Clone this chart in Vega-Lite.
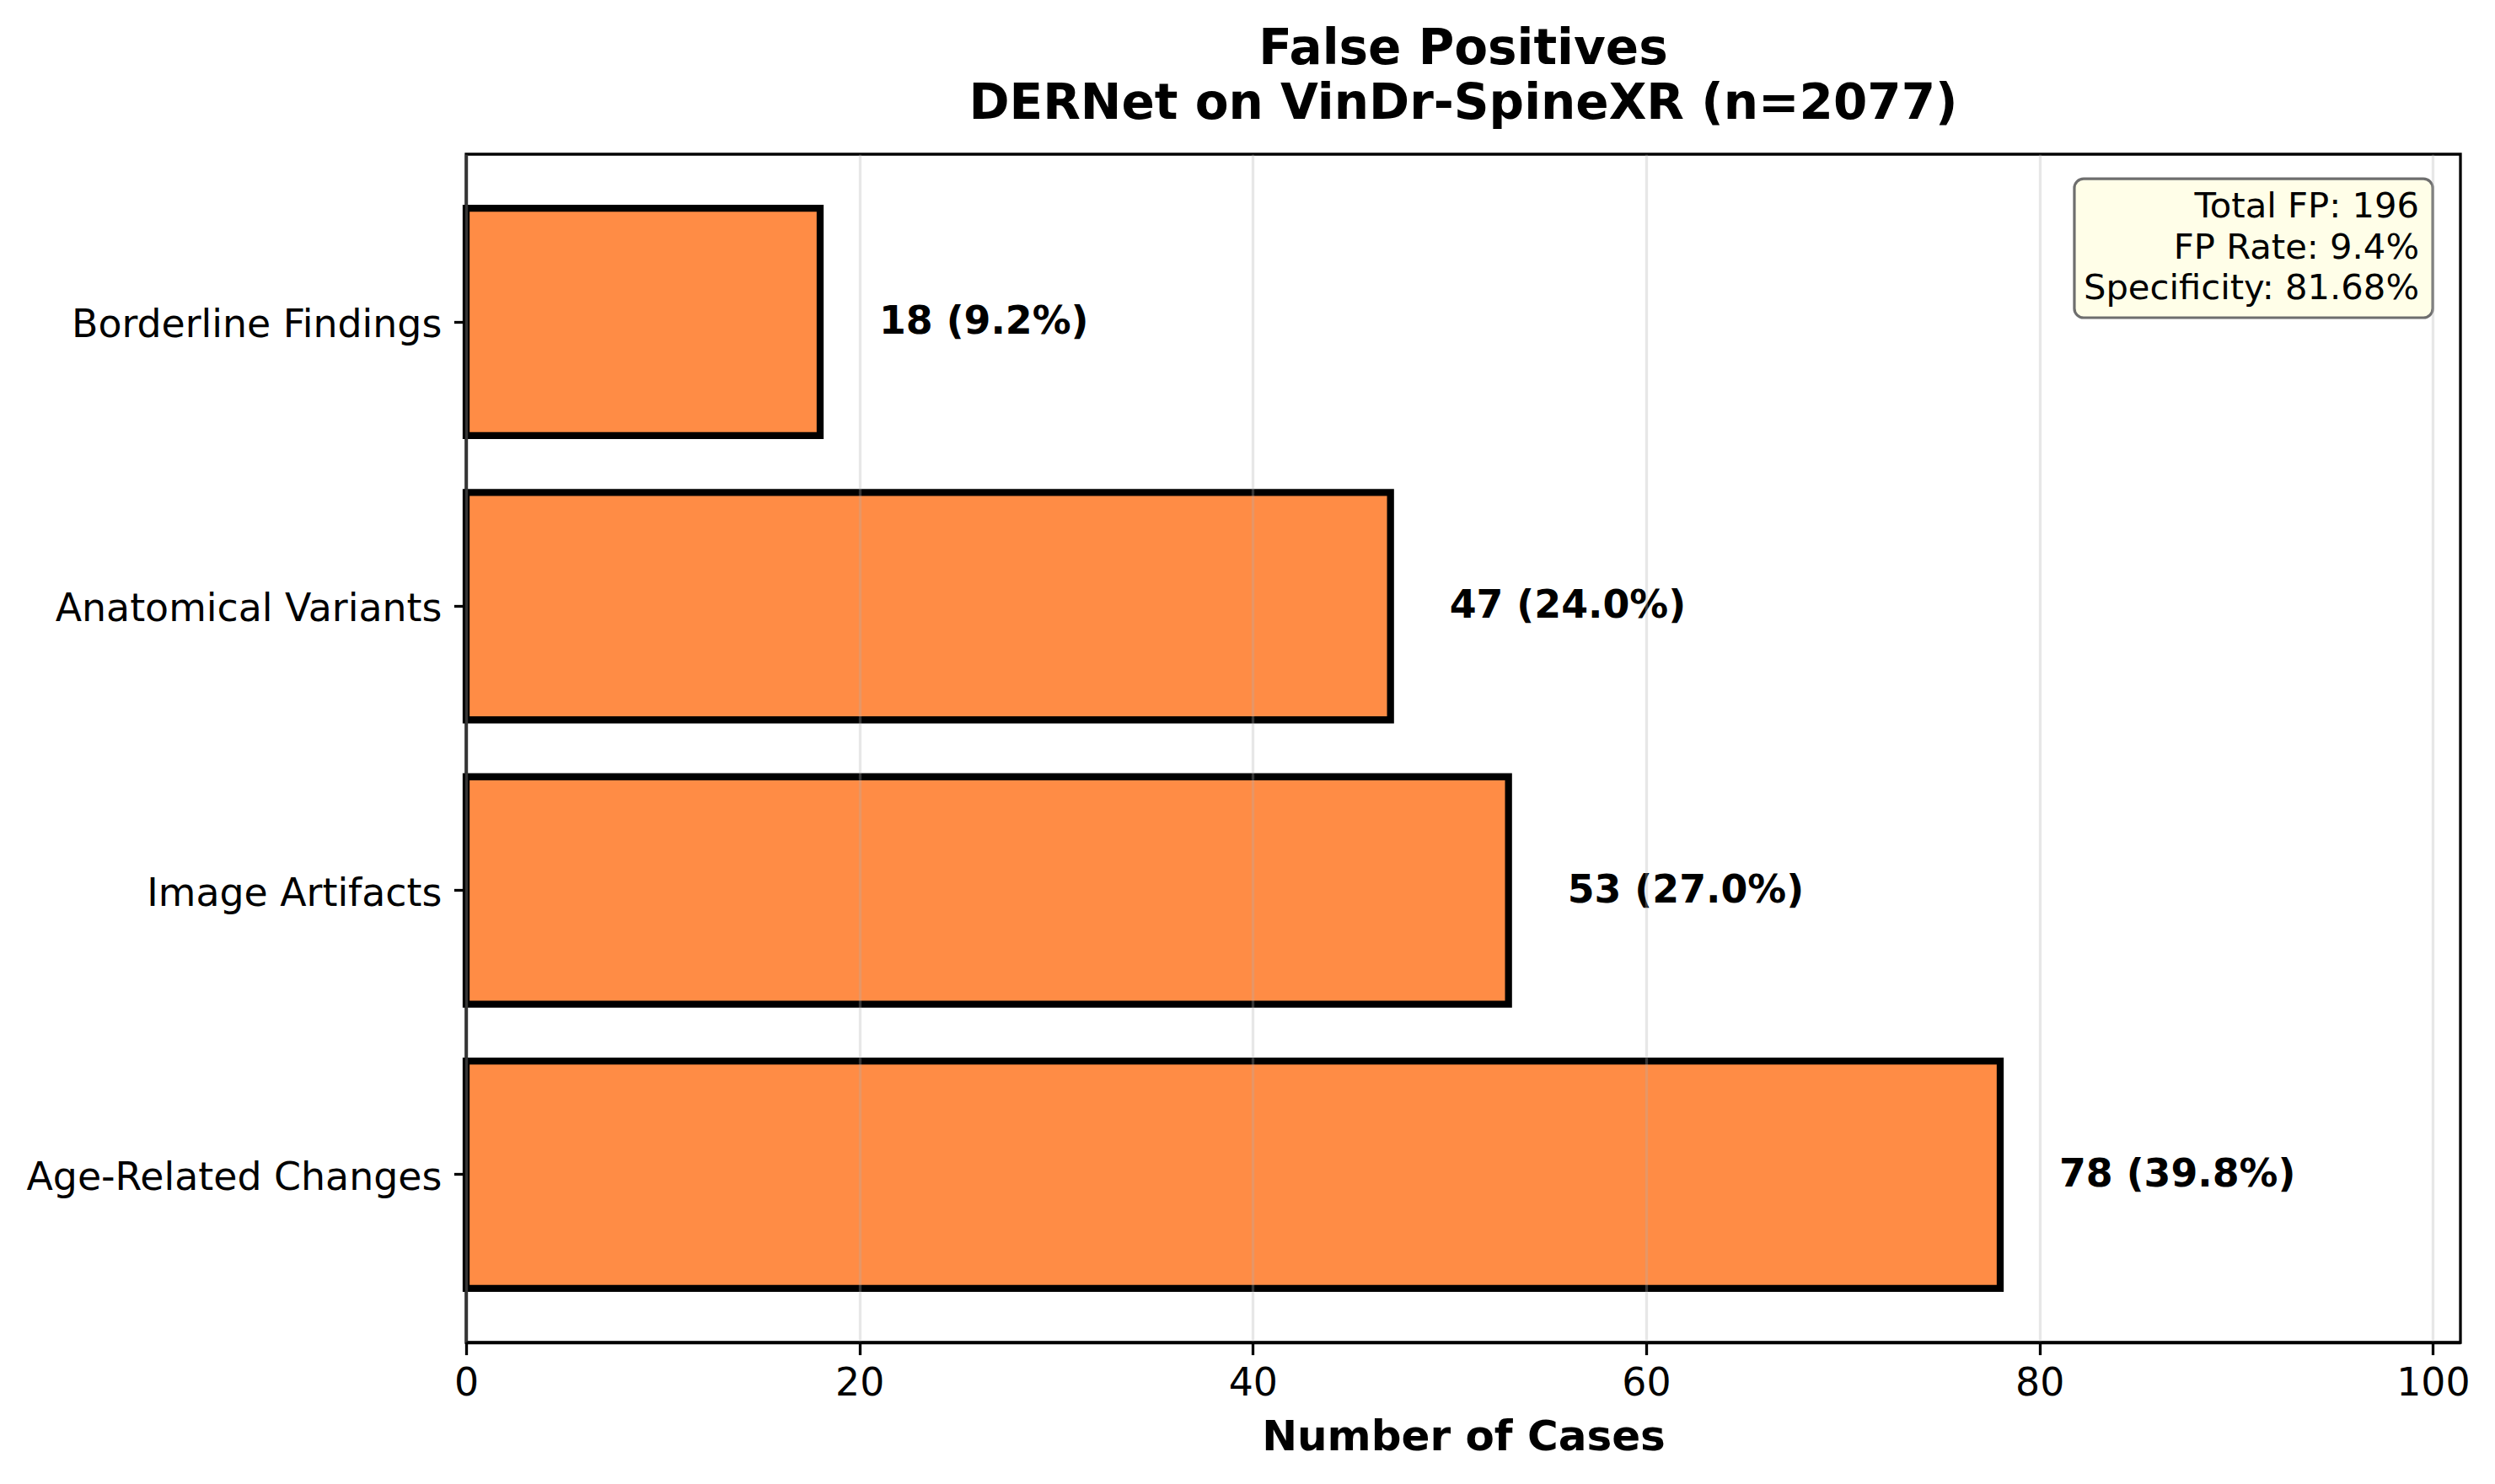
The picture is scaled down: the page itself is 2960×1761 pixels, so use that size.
{
  "$schema": "https://vega.github.io/schema/vega-lite/v6.json",
  "description": "False positives of DERNet on VinDr-SpineXR, by category",
  "width": 2366,
  "height": 1410,
  "autosize": {"type": "none"},
  "padding": {"left": 553, "top": 183, "right": 41, "bottom": 168},
  "background": "white",
  "config": {
    "font": "DejaVu Sans",
    "view": {"stroke": "black", "strokeWidth": 3.3},
    "axis": {
      "domainColor": "black",
      "domainWidth": 3.3,
      "tickColor": "black",
      "tickWidth": 3.3,
      "tickSize": 14.6,
      "labelColor": "black",
      "labelFont": "DejaVu Sans",
      "labelFontSize": 45.8,
      "labelLimit": 0,
      "titleColor": "black",
      "titleFont": "DejaVu Sans"
    }
  },
  "title": {
    "text": ["False Positives", "DERNet on VinDr-SpineXR (n=2077)"],
    "font": "DejaVu Sans",
    "fontSize": 58,
    "fontWeight": "bold",
    "color": "black",
    "anchor": "middle",
    "frame": "group",
    "lineHeight": 65,
    "offset": 30
  },
  "datasets": {
    "fp": [
      {"category": "Age-Related Changes", "count": 78, "label": "78 (39.8%)"},
      {"category": "Image Artifacts", "count": 53, "label": "53 (27.0%)"},
      {"category": "Anatomical Variants", "count": 47, "label": "47 (24.0%)"},
      {"category": "Borderline Findings", "count": 18, "label": "18 (9.2%)"}
    ],
    "summary": [
      {"total_fp": 196, "lines": ["Total FP: 196", "FP Rate: 9.4%", "Specificity: 81.68%"]}
    ]
  },
  "layer": [
    {
      "data": {"name": "fp"},
      "encoding": {
        "y": {
          "field": "category",
          "type": "nominal",
          "sort": ["Borderline Findings", "Anatomical Variants", "Image Artifacts", "Age-Related Changes"],
          "scale": {"paddingInner": 0.2, "paddingOuter": 0.19},
          "axis": {"title": null, "grid": false, "labelPadding": 14.6, "labelBaseline": "alphabetic", "labelOffset": 18}
        },
        "x": {
          "field": "count",
          "type": "quantitative",
          "scale": {"domain": [0, 101.4], "nice": false, "zero": true},
          "axis": {
            "title": "Number of Cases",
            "titleFontSize": 50,
            "titleFontWeight": "bold",
            "titlePadding": 17,
            "values": [0, 20, 40, 60, 80, 100],
            "labelPadding": 11.4,
            "labelFlush": false,
            "grid": true,
            "gridColor": "#b0b0b0",
            "gridOpacity": 0.3,
            "gridWidth": 3.3,
            "zindex": 1
          }
        }
      },
      "layer": [
        {
          "mark": {"type": "bar", "fill": "#FF8C45", "stroke": "black", "strokeWidth": 8.3}
        },
        {
          "mark": {
            "type": "text",
            "align": "left",
            "baseline": "middle",
            "dx": 70,
            "font": "DejaVu Sans",
            "fontSize": 45.8,
            "fontWeight": "bold",
            "color": "black"
          },
          "encoding": {
            "text": {"field": "label", "type": "nominal"}
          }
        }
      ]
    },
    {
      "data": {"name": "summary"},
      "layer": [
        {
          "mark": {
            "type": "rect",
            "fill": "#FFFEE8",
            "stroke": "#6e6e6e",
            "strokeWidth": 3.2,
            "cornerRadius": 11
          },
          "encoding": {
            "x": {"datum": 81.77, "type": "quantitative"},
            "x2": {"datum": 99.99},
            "y": {"datum": 0.8624, "type": "quantitative", "scale": {"domain": [0, 1], "nice": false}, "axis": null},
            "y2": {"datum": 0.9794}
          }
        },
        {
          "mark": {
            "type": "text",
            "align": "right",
            "baseline": "alphabetic",
            "font": "DejaVu Sans",
            "fontSize": 41.7,
            "lineHeight": 48.5,
            "color": "black"
          },
          "encoding": {
            "x": {"datum": 99.3, "type": "quantitative"},
            "y": {"datum": 0.9468, "type": "quantitative"},
            "text": {"field": "lines", "type": "nominal"}
          }
        }
      ]
    }
  ],
  "resolve": {"scale": {"y": "independent"}, "axis": {"y": "independent"}}
}
